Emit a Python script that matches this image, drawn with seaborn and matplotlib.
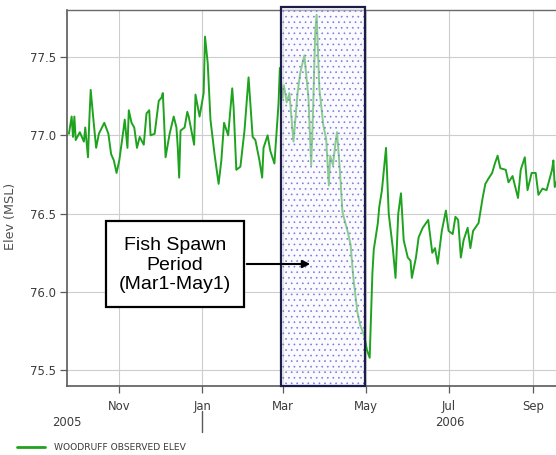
import matplotlib
matplotlib.use("Agg")
import matplotlib.pyplot as plt
import matplotlib.dates as mdates
import matplotlib.transforms as mtransforms
from matplotlib.patches import Rectangle, FancyArrowPatch
from matplotlib.lines import Line2D
from matplotlib.ticker import MultipleLocator, FormatStrFormatter
import pandas as pd
import seaborn as sns

# ---------------- data ----------------
dates = [
    "2005-09-25", "2005-09-27", "2005-09-28", "2005-09-29", "2005-09-30", "2005-10-03",
    "2005-10-06", "2005-10-07", "2005-10-09", "2005-10-10", "2005-10-11", "2005-10-13",
    "2005-10-15", "2005-10-17", "2005-10-21", "2005-10-24", "2005-10-26", "2005-10-28",
    "2005-10-30", "2005-11-01", "2005-11-04", "2005-11-05", "2005-11-07", "2005-11-08",
    "2005-11-10", "2005-11-12", "2005-11-14", "2005-11-16", "2005-11-19", "2005-11-21",
    "2005-11-23", "2005-11-24", "2005-11-27", "2005-11-30", "2005-12-02", "2005-12-03",
    "2005-12-04", "2005-12-05", "2005-12-08", "2005-12-11", "2005-12-13", "2005-12-14",
    "2005-12-15", "2005-12-16", "2005-12-19", "2005-12-21", "2005-12-22", "2005-12-26",
    "2005-12-27", "2005-12-30", "2006-01-02", "2006-01-03", "2006-01-05", "2006-01-07",
    "2006-01-10", "2006-01-13", "2006-01-15", "2006-01-17", "2006-01-20", "2006-01-23",
    "2006-01-24", "2006-01-26", "2006-01-29", "2006-02-01", "2006-02-04", "2006-02-05",
    "2006-02-07", "2006-02-09", "2006-02-12", "2006-02-14", "2006-02-15", "2006-02-18",
    "2006-02-20", "2006-02-23", "2006-02-26", "2006-02-27", "2006-03-01", "2006-03-02",
    "2006-03-04", "2006-03-06", "2006-03-09", "2006-03-10", "2006-03-12", "2006-03-14",
    "2006-03-17", "2006-03-20", "2006-03-22", "2006-03-23", "2006-03-25", "2006-03-26",
    "2006-03-28", "2006-03-31", "2006-04-02", "2006-04-04", "2006-04-05", "2006-04-07",
    "2006-04-09", "2006-04-10", "2006-04-12", "2006-04-14", "2006-04-18", "2006-04-20",
    "2006-04-22", "2006-04-25", "2006-04-27", "2006-04-30", "2006-05-02", "2006-05-04",
    "2006-05-06", "2006-05-07", "2006-05-10", "2006-05-11", "2006-05-13", "2006-05-16",
    "2006-05-18", "2006-05-21", "2006-05-23", "2006-05-25", "2006-05-27", "2006-05-29",
    "2006-06-01", "2006-06-03", "2006-06-04", "2006-06-07", "2006-06-09", "2006-06-12",
    "2006-06-16", "2006-06-19", "2006-06-21", "2006-06-23", "2006-06-26", "2006-06-29",
    "2006-07-01", "2006-07-04", "2006-07-06", "2006-07-08", "2006-07-10", "2006-07-12",
    "2006-07-15", "2006-07-17", "2006-07-19", "2006-07-23", "2006-07-26", "2006-07-28",
    "2006-07-30", "2006-08-02", "2006-08-04", "2006-08-06", "2006-08-08", "2006-08-12",
    "2006-08-14", "2006-08-17", "2006-08-19", "2006-08-21", "2006-08-23", "2006-08-26",
    "2006-08-28", "2006-08-31", "2006-09-03", "2006-09-05", "2006-09-08", "2006-09-11",
    "2006-09-15", "2006-09-16", "2006-09-17", "2006-09-19",
]
elev = [
    77.01, 77.12, 76.99, 77.12, 76.97, 77.02,
    76.96, 77.05, 76.86, 77.10, 77.29, 77.10,
    76.92, 77.01, 77.08, 77.01, 76.88, 76.84,
    76.76, 76.84, 77.03, 77.10, 76.92, 77.16,
    77.08, 77.05, 76.92, 76.99, 76.94, 77.14,
    77.16, 77.00, 77.01, 77.22, 77.24, 77.27,
    77.08, 76.86, 77.01, 77.12, 77.05, 76.92,
    76.73, 77.03, 77.05, 77.15, 77.12, 76.94,
    77.26, 77.12, 77.27, 77.63, 77.46, 77.10,
    76.88, 76.69, 76.84, 77.08, 77.00, 77.30,
    77.18, 76.78, 76.80, 77.03, 77.37, 77.24,
    76.99, 76.97, 76.84, 76.73, 76.92, 77.00,
    76.90, 76.82, 77.20, 77.43, 77.24, 77.32,
    77.21, 77.27, 76.96, 77.06, 77.27, 77.40,
    77.51, 77.24, 76.81, 77.04, 77.66, 77.77,
    77.30, 77.06, 76.98, 76.68, 76.87, 76.81,
    76.96, 77.02, 76.79, 76.51, 76.38, 76.30,
    76.09, 75.87, 75.79, 75.72, 75.63, 75.58,
    76.12, 76.27, 76.44, 76.54, 76.65, 76.92,
    76.50, 76.28, 76.09, 76.50, 76.63, 76.33,
    76.22, 76.20, 76.09, 76.22, 76.35, 76.41,
    76.46, 76.25, 76.28, 76.18, 76.39, 76.52,
    76.39, 76.37, 76.48, 76.46, 76.22, 76.33,
    76.41, 76.28, 76.39, 76.44, 76.60, 76.69,
    76.72, 76.76, 76.82, 76.87, 76.79, 76.78,
    76.70, 76.74, 76.67, 76.60, 76.78, 76.86,
    76.65, 76.76, 76.76, 76.62, 76.66, 76.65,
    76.78, 76.84, 76.67, 76.72,
]
series_label = "WOODRUFF OBSERVED ELEV"
y_label = "Elev (MSL)"
spawn_start = "2006-02-27 12:00"
spawn_end = "2006-04-30 06:00"
annotation_text = "Fish Spawn\nPeriod\n(Mar1-May1)"
year_labels = ["2005", "2006"]

df = pd.DataFrame({"date": pd.to_datetime(dates), "elev": elev})

# ---------------- style ----------------
sns.set_style("white")
plt.rcParams["font.family"] = ["DejaVu Sans"]
GREEN = "#1fa31f"
GRAY_TXT = "#3c3c3c"
SPINE = "#5a5a5a"

W, H = 556, 455
fig = plt.figure(figsize=(W / 100, H / 100), dpi=100)
fig.patch.set_facecolor("white")


def fx(px):
    return px / W


def fy(py):
    return 1 - py / H


ax = fig.add_axes([fx(67), fy(386), (W - 67) / W, (386 - 10) / H])
ax.set_facecolor("white")

sns.lineplot(data=df, x="date", y="elev", ax=ax, color=GREEN, linewidth=1.4, zorder=2)

ax.set_xlim(pd.Timestamp("2005-09-23 14:00"), pd.Timestamp("2006-09-17 22:00"))
ax.set_ylim(75.40, 77.80)

ax.xaxis.set_major_locator(mdates.MonthLocator(bymonth=[1, 3, 5, 7, 9, 11]))
ax.xaxis.set_major_formatter(mdates.DateFormatter("%b"))
ax.yaxis.set_major_locator(MultipleLocator(0.5))
ax.yaxis.set_major_formatter(FormatStrFormatter("%.1f"))

ax.grid(True, color="#cdcdcd", linewidth=0.8, zorder=0)
ax.set_axisbelow(True)

ax.tick_params(axis="both", which="major", direction="out", length=5, width=0.9,
               color=SPINE, labelsize=8.4, labelcolor=GRAY_TXT, pad=3, left=True, bottom=True)
ax.tick_params(axis="x", pad=5)

for side in ["left", "bottom"]:
    ax.spines[side].set_color(SPINE)
    ax.spines[side].set_linewidth(1.2)
ax.spines["top"].set_color("#6a6a6a")
ax.spines["top"].set_linewidth(1.0)
ax.spines["right"].set_visible(False)

ax.set_xlabel("")
ax.set_ylabel(y_label, fontsize=9.2, color="#505050")
ax.yaxis.set_label_coords((17 - 67) / (W - 67), (386 - 216) / 376)

# ---------------- spawn period shading ----------------
trans = mtransforms.blended_transform_factory(ax.transData, ax.transAxes)
x0 = mdates.date2num(pd.Timestamp(spawn_start))
x1 = mdates.date2num(pd.Timestamp(spawn_end))
plt.rcParams["hatch.linewidth"] = 0.45
hatch_rect = Rectangle((x0, 0), x1 - x0, 1.0, transform=trans,
                       facecolor=(0.97, 0.97, 1.0, 0.5), edgecolor="#7a7ad8",
                       hatch="...", linewidth=0, zorder=3, clip_on=False)
ax.add_patch(hatch_rect)
border_rect = Rectangle((x0, 0), x1 - x0, 1.008, transform=trans,
                        facecolor="none", edgecolor="#1c1c48", linewidth=1.6,
                        zorder=4, clip_on=False)
ax.add_patch(border_rect)

# ---------------- annotation box ----------------
box = Rectangle((fx(106), fy(307)), fx(244) - fx(106), fy(221) - fy(307),
                transform=fig.transFigure, facecolor="white", edgecolor="black",
                linewidth=1.6, zorder=10)
fig.patches.append(box)
fig.text(fx(175), fy(265), annotation_text, ha="center", va="center",
         fontsize=14, family="Liberation Sans", color="black", linespacing=1.2,
         zorder=11)
arrow = FancyArrowPatch((fx(244), fy(264)), (fx(313), fy(264)),
                        transform=fig.transFigure, arrowstyle="-|>",
                        mutation_scale=11, color="black", linewidth=1.5, zorder=11)
fig.patches.append(arrow)

# ---------------- year labels & separator ----------------
fig.text(fx(67), fy(423), year_labels[0], ha="center", va="center",
         fontsize=8.4, color=GRAY_TXT)
fig.text(fx(450), fy(423), year_labels[1], ha="center", va="center",
         fontsize=8.4, color=GRAY_TXT)
sep_trans = mtransforms.blended_transform_factory(ax.transData, fig.transFigure)
jan = mdates.date2num(pd.Timestamp("2006-01-01"))
fig.lines.append(Line2D([jan, jan], [fy(411), fy(432)], transform=sep_trans,
                        color=SPINE, linewidth=1.0))

# ---------------- legend ----------------
fig.legend(handles=[Line2D([], [], color=GREEN, linewidth=2.0)], labels=[series_label],
           loc="center left", bbox_to_anchor=(fx(17), fy(448)), frameon=False,
           fontsize=6.6, handlelength=3.1, handletextpad=0.9, borderpad=0,
           borderaxespad=0, labelcolor=GRAY_TXT)

fig.savefig("out.png", dpi=100, facecolor="white")
